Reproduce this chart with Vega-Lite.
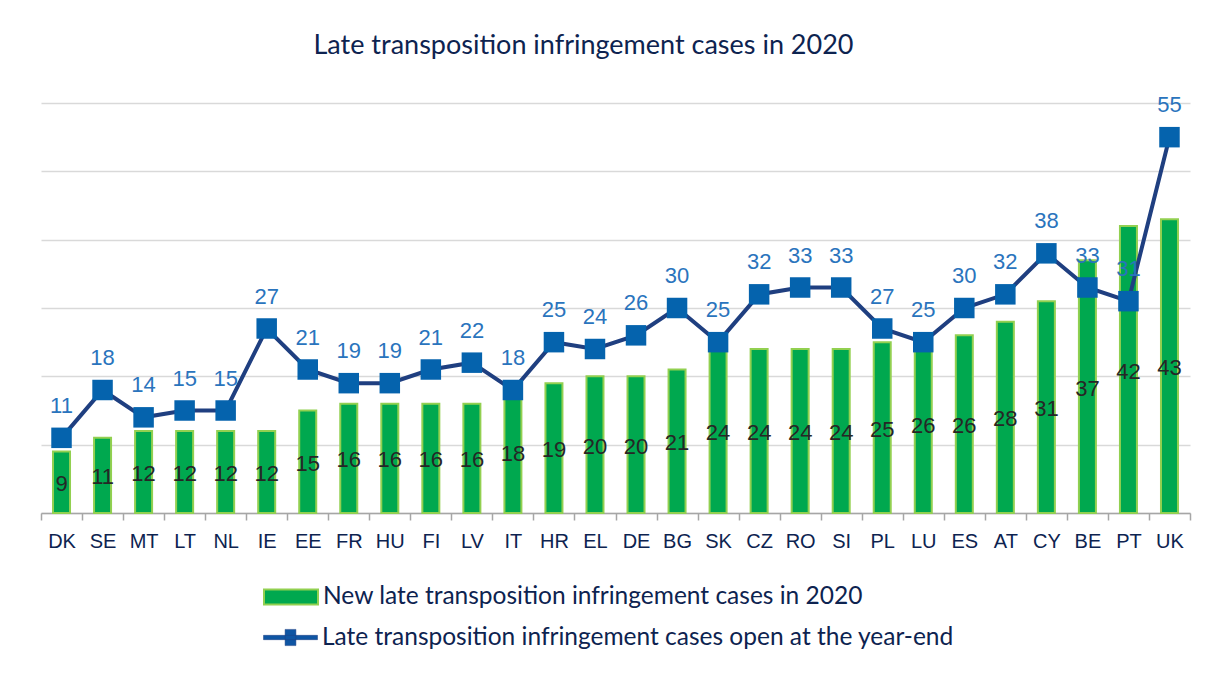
{
  "$schema": "https://vega.github.io/schema/vega-lite/v6.json",
  "width": 1149,
  "height": 410,
  "autosize": "none",
  "padding": {"left": 41, "top": 103, "right": 23, "bottom": 168},
  "background": "white",
  "title": {
    "text": "Late transposition infringement cases in 2020",
    "font": "Lato",
    "fontSize": 27,
    "fontWeight": "normal",
    "color": "#0D2350",
    "anchor": "middle",
    "dx": -32,
    "offset": 34
  },
  "data": {
    "values": [
      {"c": "DK", "new": 9, "open": 11},
      {"c": "SE", "new": 11, "open": 18},
      {"c": "MT", "new": 12, "open": 14},
      {"c": "LT", "new": 12, "open": 15},
      {"c": "NL", "new": 12, "open": 15},
      {"c": "IE", "new": 12, "open": 27},
      {"c": "EE", "new": 15, "open": 21},
      {"c": "FR", "new": 16, "open": 19},
      {"c": "HU", "new": 16, "open": 19},
      {"c": "FI", "new": 16, "open": 21},
      {"c": "LV", "new": 16, "open": 22},
      {"c": "IT", "new": 18, "open": 18},
      {"c": "HR", "new": 19, "open": 25},
      {"c": "EL", "new": 20, "open": 24},
      {"c": "DE", "new": 20, "open": 26},
      {"c": "BG", "new": 21, "open": 30},
      {"c": "SK", "new": 24, "open": 25},
      {"c": "CZ", "new": 24, "open": 32},
      {"c": "RO", "new": 24, "open": 33},
      {"c": "SI", "new": 24, "open": 33},
      {"c": "PL", "new": 25, "open": 27},
      {"c": "LU", "new": 26, "open": 25},
      {"c": "ES", "new": 26, "open": 30},
      {"c": "AT", "new": 28, "open": 32},
      {"c": "CY", "new": 31, "open": 38},
      {"c": "BE", "new": 37, "open": 33},
      {"c": "PT", "new": 42, "open": 31},
      {"c": "UK", "new": 43, "open": 55}
    ]
  },
  "encoding": {
    "x": {
      "field": "c",
      "type": "nominal",
      "sort": null,
      "scale": {"paddingInner": 0, "paddingOuter": 0},
      "axis": {
        "title": null,
        "labelAngle": 0,
        "labelFont": "Liberation Sans",
        "labelFontSize": 20,
        "labelColor": "#0D2350",
        "labelPadding": 11,
        "tickBand": "extent",
        "tickSize": 7,
        "tickColor": "#A6A6A6",
        "tickWidth": 1.5,
        "domainColor": "#A6A6A6",
        "domainWidth": 1.5,
        "grid": false
      }
    }
  },
  "layer": [
    {
      "mark": {"type": "bar", "size": 17, "stroke": "#92D050", "strokeWidth": 2},
      "encoding": {
        "y": {
          "field": "new",
          "type": "quantitative",
          "scale": {"domain": [0, 60]},
          "axis": {
            "title": null,
            "labels": false,
            "ticks": false,
            "domain": false,
            "values": [0, 10, 20, 30, 40, 50, 60],
            "gridColor": "#D9D9D9",
            "gridWidth": 1.5
          }
        },
        "fill": {
          "datum": "New late transposition infringement cases in 2020",
          "type": "nominal",
          "scale": {"range": ["#00A84F"]},
          "legend": {
            "title": null,
            "orient": "none",
            "legendX": 222,
            "legendY": 466,
            "symbolType": "M-1,-0.28H1V0.28H-1Z",
            "symbolSize": 2916,
            "symbolStrokeColor": "#92D050",
            "symbolStrokeWidth": 2,
            "labelFont": "Lato",
            "labelFontSize": 24.5,
            "labelColor": "#0D2350",
            "labelOffset": 4,
            "labelLimit": 0,
            "encode": {"symbols": {"update": {"stroke": {"value": "#92D050"}, "strokeWidth": {"value": 2}, "opacity": {"value": 1}}}}
          }
        }
      }
    },
    {
      "mark": {"type": "text", "font": "Liberation Sans", "fontSize": 22, "color": "#262626", "baseline": "middle", "dy": 2},
      "encoding": {
        "y": {"field": "new", "type": "quantitative", "scale": {"domain": [0, 120]}, "axis": null},
        "text": {"field": "new", "type": "quantitative"}
      }
    },
    {
      "mark": {"type": "line", "strokeWidth": 4},
      "encoding": {
        "y": {"field": "open", "type": "quantitative", "scale": {"domain": [0, 60]}, "axis": null},
        "stroke": {
          "datum": "Late transposition infringement cases open at the year-end",
          "type": "nominal",
          "scale": {"range": ["#1F3F80"]},
          "legend": {
            "title": null,
            "orient": "none",
            "legendX": 222,
            "legendY": 507,
            "symbolType": "M-1,-0.08H1V0.08H-1Z M-0.2,-0.3H0.2V0.3H-0.2Z",
            "symbolSize": 2916,
            "labelFont": "Lato",
            "labelFontSize": 24.5,
            "labelColor": "#0D2350",
            "labelOffset": 4,
            "labelLimit": 0,
            "encode": {"symbols": {"update": {"fill": {"value": "#0E55A3"}, "stroke": {"value": "#1F3F80"}, "strokeWidth": {"value": 0.5}, "opacity": {"value": 1}}}}
          }
        }
      }
    },
    {
      "mark": {"type": "point", "shape": "square", "filled": true, "size": 420, "color": "#0563AD", "opacity": 1},
      "encoding": {
        "y": {"field": "open", "type": "quantitative", "scale": {"domain": [0, 60]}, "axis": null}
      }
    },
    {
      "mark": {"type": "text", "font": "Liberation Sans", "fontSize": 22, "color": "#2A74BD", "baseline": "middle", "dy": -32},
      "encoding": {
        "y": {"field": "open", "type": "quantitative", "scale": {"domain": [0, 60]}, "axis": null},
        "text": {"field": "open", "type": "quantitative"}
      }
    }
  ],
  "resolve": {"scale": {"y": "independent"}},
  "config": {"view": {"stroke": null}}
}
